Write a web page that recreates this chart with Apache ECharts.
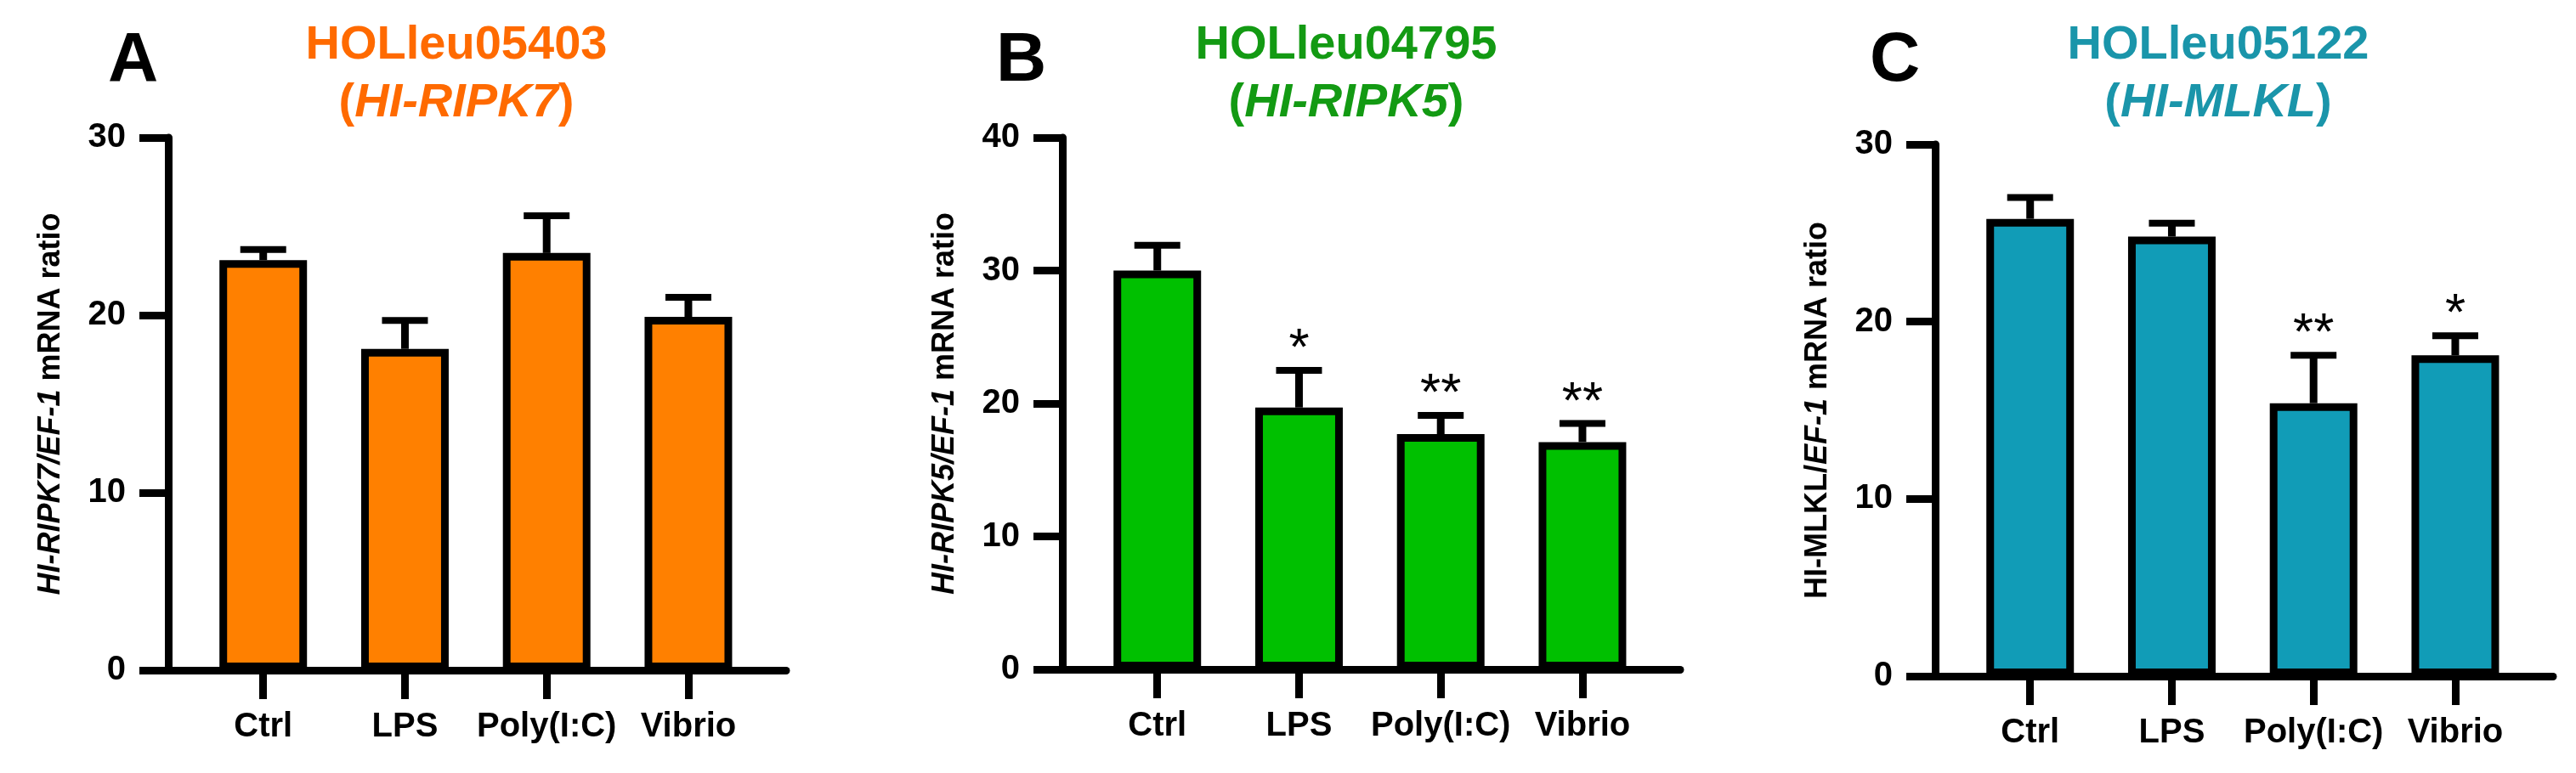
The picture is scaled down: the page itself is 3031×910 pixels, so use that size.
<!DOCTYPE html>
<html>
<head>
<meta charset="utf-8">
<script src="https://cdn.jsdelivr.net/npm/echarts@6/dist/echarts.min.js"></script>
<style>
  html, body { margin: 0; padding: 0; background: #fff; }
  #chart { width: 3031px; height: 910px; }
</style>
</head>
<body>
<div id="chart"></div>
<script>
const categories = ['Ctrl', 'LPS', 'Poly(I:C)', 'Vibrio']
const xPos = [0, 1, 2, 3]

// mean and upper error (SEM)
const meanA = [23.1, 18.1, 23.5, 19.9]
const errA = [0.6, 1.6, 2.1, 1.1]
const sigA = ['', '', '', '']

const meanB = [30.0, 19.7, 17.7, 17.1]
const errB = [1.9, 2.8, 1.4, 1.4]
const sigB = ['', '*', '**', '**']

const meanC = [25.8, 24.8, 15.4, 18.1]
const errC = [1.2, 0.75, 2.7, 1.1]
const sigC = ['', '', '**', '*']

const yMaxA = 30
const yMaxB = 40
const yMaxC = 30

const FONT = '"Liberation Sans", Arial, Helvetica, sans-serif'

const panels = [
  {
    letter: 'A', gene: 'HOLleu05403', name: 'HI-RIPK7', color: '#ff8000', titleColor: '#ff6a00',
    mean: meanA, err: errA, sig: sigA, yMax: yMaxA,
    yName: '{i|HI-RIPK7/EF-1}{n| mRNA ratio}',
    left: 198, top: 162, height: 627, titleX: 537, letterX: 127
  },
  {
    letter: 'B', gene: 'HOLleu04795', name: 'HI-RIPK5', color: '#00c000', titleColor: '#139a13',
    mean: meanB, err: errB, sig: sigB, yMax: yMaxB,
    yName: '{i|HI-RIPK5/EF-1}{n| mRNA ratio}',
    left: 1250, top: 162, height: 626, titleX: 1584, letterX: 1172
  },
  {
    letter: 'C', gene: 'HOLleu05122', name: 'HI-MLKL', color: '#119cb7', titleColor: '#1a95aa',
    mean: meanC, err: errC, sig: sigC, yMax: yMaxC,
    yName: '{n|HI-MLKL/}{i|EF-1}{n| mRNA ratio}',
    left: 2277, top: 170, height: 626, titleX: 2610, letterX: 2200
  }
]

const chart = echarts.init(document.getElementById('chart'))

const grid = [], xAxis = [], yAxis = [], series = [], title = []

panels.forEach((p, i) => {
  grid.push({ left: p.left, top: p.top, width: 727, height: p.height, containLabel: false })

  xAxis.push({
    type: 'value',
    gridIndex: i,
    min: -0.67,
    max: 3.69,
    splitLine: { show: false },
    axisLine: { show: true, onZero: false, lineStyle: { color: '#000', width: 9 } },
    axisTick: { show: true, customValues: xPos, length: 34, lineStyle: { color: '#000', width: 9 } },
    axisLabel: {
      customValues: xPos,
      formatter: v => categories[Math.round(v)] || '',
      margin: 47,
      color: '#000',
      fontSize: 40,
      fontWeight: 'bold',
      fontFamily: FONT
    }
  })

  yAxis.push({
    type: 'value',
    gridIndex: i,
    min: 0,
    max: p.yMax,
    interval: 10,
    splitLine: { show: false },
    axisLine: { show: true, onZero: false, lineStyle: { color: '#000', width: 9 } },
    axisTick: { show: true, length: 34, lineStyle: { color: '#000', width: 9 } },
    axisLabel: { margin: 50, color: '#000', fontSize: 40, fontWeight: 'bold', fontFamily: FONT },
    name: p.yName,
    nameLocation: 'middle',
    nameRotate: 90,
    nameGap: 120,
    nameTextStyle: {
      color: '#000',
      fontSize: 36,
      fontWeight: 'bold',
      fontFamily: FONT,
      rich: {
        i: { fontSize: 36, fontWeight: 'bold', fontStyle: 'italic', fontFamily: FONT, color: '#000' },
        n: { fontSize: 36, fontWeight: 'bold', fontFamily: FONT, color: '#000' }
      }
    }
  })

  series.push({
    type: 'bar',
    xAxisIndex: i,
    yAxisIndex: i,
    barWidth: 103,
    data: p.mean.map((m, k) => [xPos[k], m]),
    itemStyle: { color: p.color, borderColor: '#000', borderWidth: 9 },
    z: 2
  })

  series.push({
    type: 'custom',
    xAxisIndex: i,
    yAxisIndex: i,
    data: p.mean.map((m, k) => [xPos[k], m, m + p.err[k]]),
    encode: { x: 0, y: [1, 2] },
    z: 3,
    renderItem: (params, api) => {
      const x = api.value(0)
      const base = api.coord([x, api.value(1)])
      const top = api.coord([x, api.value(2)])
      const s = p.sig[params.dataIndex]
      const children = [
        { type: 'line', shape: { x1: base[0], y1: base[1], x2: top[0], y2: top[1] },
          style: { stroke: '#000', lineWidth: 9 } },
        { type: 'line', shape: { x1: top[0] - 27, y1: top[1], x2: top[0] + 27, y2: top[1] },
          style: { stroke: '#000', lineWidth: 8 } }
      ]
      if (s) {
        children.push({
          type: 'text',
          style: {
            text: s, x: top[0], y: top[1] - 24,
            align: 'center', verticalAlign: 'middle',
            fill: '#000', fontSize: 62, fontFamily: FONT
          }
        })
      }
      return { type: 'group', children }
    }
  })

  title.push({
    text: '{n|' + p.gene + '}\n{n|(}{i|' + p.name + '}{n|)}',
    left: p.titleX,
    top: 20,
    textAlign: 'center',
    padding: 0,
    textStyle: {
      lineHeight: 68,
      rich: {
        n: { fontSize: 56, fontWeight: 'bold', fontFamily: FONT, color: p.titleColor, lineHeight: 68 },
        i: { fontSize: 56, fontWeight: 'bold', fontStyle: 'italic', fontFamily: FONT, color: p.titleColor, lineHeight: 68 }
      }
    }
  })

  title.push({
    text: p.letter,
    left: p.letterX,
    top: 32,
    padding: 0,
    textStyle: { fontSize: 82, fontWeight: 'bold', fontFamily: FONT, color: '#000', lineHeight: 80 }
  })
})

chart.setOption({
  backgroundColor: '#fff',
  animation: false,
  title,
  grid,
  xAxis,
  yAxis,
  series
})
</script>
</body>
</html>
